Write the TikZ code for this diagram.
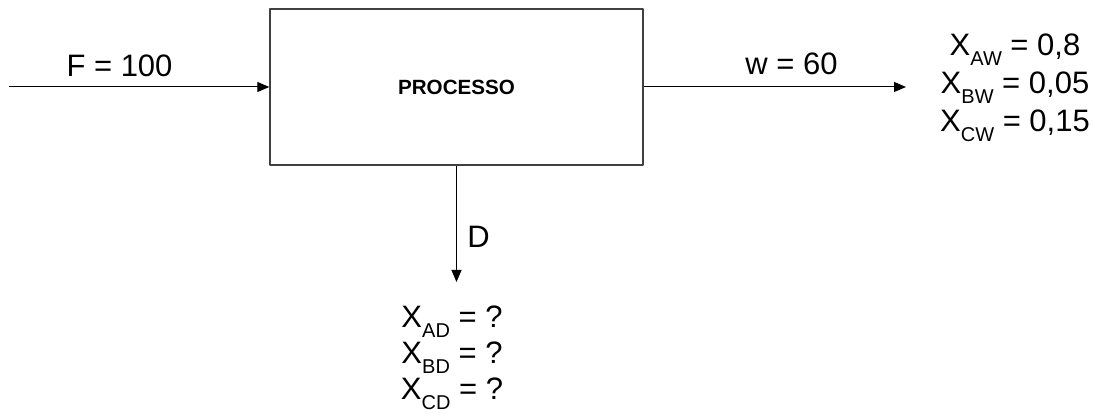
\documentclass[tikz,border=0pt]{standalone}
\usepackage{fontspec}
\setmainfont{Liberation Sans}
\usetikzlibrary{arrows.meta}
\newcommand{\lowsub}[1]{\raisebox{-5pt}{\fontsize{10}{12}\selectfont #1}}
\tikzset{
  flow/.style={line width=0.5pt, -{Triangle[length=6pt,width=5pt]}},
  procbox/.style={draw=black!75, line width=0.7pt, minimum width=186.5pt, minimum height=78pt, font=\fontsize{10.3}{12}\selectfont\bfseries},
  streamlbl/.style={font=\fontsize{15.5}{18}\selectfont, anchor=base, inner sep=0pt},
  complbl/.style={align=center, anchor=base, inner sep=0pt}
}
\begin{document}
\begin{tikzpicture}[x=0.5pt, y=0.5pt, line join=round]
            \useasboundingbox (0,0) rectangle (1095,-416);
            \node[procbox] (proc) at (456.5,-87) {PROCESSO};
            \coordinate (feed) at (9,-87);
            \coordinate (wout) at (906,-87);
            \coordinate (dout) at (456.5,-282);
            \draw[flow] (feed) -- (proc.west);
            \draw[flow] (proc.east) -- (wout);
            \draw[flow] (proc.south) -- (dout);
            % stream labels
            \node[streamlbl] (flbl) at (119.5,-77) {F = 100};
            \node[streamlbl] (wlbl) at (791.5,-75) {w = 60};
            \node[streamlbl] (dlbl) at (478.5,-248) {D};
            % compositions (base = last line)
            \node[complbl, font=\fontsize{15.5}{19}\selectfont] (wcomp) at (1015,-132)
            {X\lowsub{AW} = 0,8\\ X\lowsub{BW} = 0,05\\ X\lowsub{CW} = 0,15};
            \node[complbl, font=\fontsize{15.5}{18}\selectfont] (dcomp) at (452,-399)
            {X\lowsub{AD} = ?\\ X\lowsub{BD} = ?\\ X\lowsub{CD} = ?};
\end{tikzpicture}
\end{document}
